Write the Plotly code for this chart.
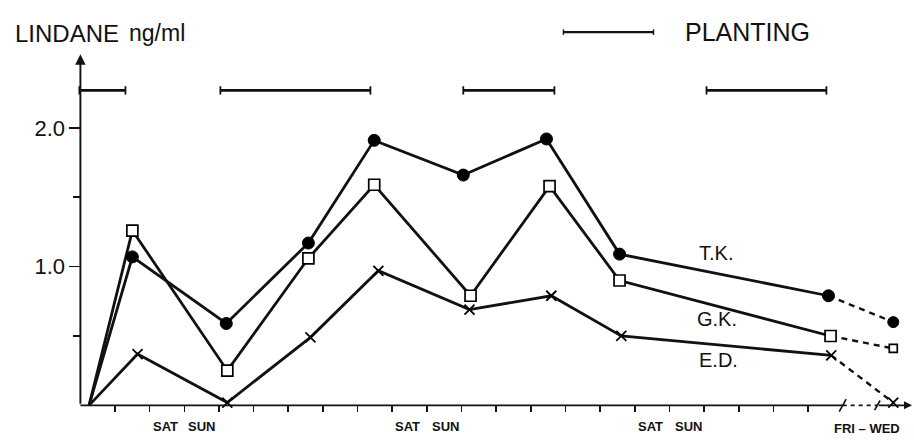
import plotly.graph_objects as go

# ---------------- data (days since start, ng/ml) ----------------
tk_x = [0.25, 1.50, 4.21, 6.58, 8.48, 11.05, 13.45, 15.56, 21.59, 23.46]
tk_y = [0.00, 1.07, 0.59, 1.17, 1.91, 1.66, 1.92, 1.09, 0.79, 0.60]

gk_x = [0.25, 1.50, 4.24, 6.58, 8.48, 11.26, 13.54, 15.56, 21.65, 23.46]
gk_y = [0.00, 1.26, 0.25, 1.06, 1.59, 0.79, 1.58, 0.90, 0.50, 0.41]

ed_x = [0.25, 1.65, 4.24, 6.64, 8.60, 11.23, 13.59, 15.61, 21.67, 23.46]
ed_y = [0.00, 0.37, 0.02, 0.49, 0.97, 0.69, 0.79, 0.50, 0.36, 0.02]

series_names = ["T.K.", "G.K.", "E.D."]

planting_start = [-0.03, 4.04, 11.05, 18.07]
planting_end = [1.30, 8.37, 13.68, 21.53]
planting_level = 2.27

day_ticks = list(range(1, 22))
weekend_labels = ["SAT", "SUN", "SAT", "SUN", "SAT", "SUN"]
weekend_pos = [2.45, 3.50, 9.45, 10.55, 16.45, 17.55]
break_start, break_end = 22.0, 23.0
y_tick_vals = [1.0, 2.0]
y_tick_text = ["1.0", "2.0"]
y_minor_vals = [0.5, 1.5]

# ---------------- layout geometry ----------------
W, H = 914, 440
L, R, T, B = 70, 1, 3, 18
PW, PH = W - L - R, H - T - B
XR = [-0.3, -0.3 + PW / 34.65]
YR = [-0.12, 2.9]


def pxx(px):
    return (px - L) / PW


def pxy(py):
    return (H - B - py) / PH


INK = "#000000"
FONT = "Liberation Sans, Arial, sans-serif"

fig = go.Figure()

# solid and dashed parts of the series (lines only)
for xs, ys in [(tk_x, tk_y), (gk_x, gk_y), (ed_x, ed_y)]:
    fig.add_trace(go.Scatter(x=xs[:-1], y=ys[:-1], mode="lines",
                             line=dict(color="#111111", width=2.8),
                             showlegend=False, hoverinfo="skip"))
    fig.add_trace(go.Scatter(x=xs[-2:], y=ys[-2:], mode="lines",
                             line=dict(color="#111111", width=2.4, dash="6px,5px"),
                             showlegend=False, hoverinfo="skip"))

# markers
styles = [
    dict(symbol="circle", color=INK, size=12, opacity=1, line=dict(color=INK, width=1)),
    dict(symbol="square", color="#ffffff", size=11, opacity=1, line=dict(color=INK, width=1.7)),
    dict(symbol="x-thin", color=INK, size=10, opacity=1, line=dict(color=INK, width=1.8)),
]
last_sizes = [11, 8, 10]
for (xs, ys), st, ls, nm in zip([(tk_x, tk_y), (gk_x, gk_y), (ed_x, ed_y)],
                                styles, last_sizes, series_names):
    sizes = [st["size"]] * (len(xs) - 2) + [ls]
    m = dict(st)
    m["size"] = sizes
    fig.add_trace(go.Scatter(x=xs[1:], y=ys[1:], mode="markers", marker=m,
                             name=nm, showlegend=False, cliponaxis=False))

shapes = []
# x axis with a break
shapes.append(dict(type="line", xref="x", yref="y", x0=0, y0=0, x1=break_start, y1=0,
                   line=dict(color="#111111", width=1.9)))
shapes.append(dict(type="line", xref="x", yref="y", x0=break_start, y0=0, x1=break_end, y1=0,
                   line=dict(color="#111111", width=1.6, dash="4px,4px")))
for bx, hw, hh in [(break_start, 0.10, 0.045), (break_end, 0.08, 0.035)]:
    shapes.append(dict(type="line", xref="x", yref="y", x0=bx - hw, y0=-hh, x1=bx + hw, y1=hh,
                       line=dict(color="#111111", width=1.6)))

# planting bars
for s, e in zip(planting_start, planting_end):
    shapes.append(dict(type="line", xref="x", yref="y", x0=s, y0=planting_level,
                       x1=e, y1=planting_level, line=dict(color="#111111", width=2.8)))
    for cx in (s, e):
        shapes.append(dict(type="line", xref="x", yref="y", x0=cx, y0=planting_level - 0.03,
                           x1=cx, y1=planting_level + 0.03, line=dict(color="#111111", width=1.8)))

# legend bar
lg_s, lg_e, lg_y = 13.94, 16.54, 2.69
shapes.append(dict(type="line", xref="x", yref="y", x0=lg_s, y0=lg_y, x1=lg_e, y1=lg_y,
                   line=dict(color="#111111", width=2.4)))
for cx in (lg_s, lg_e):
    shapes.append(dict(type="line", xref="x", yref="y", x0=cx, y0=lg_y - 0.02,
                       x1=cx, y1=lg_y + 0.02, line=dict(color="#111111", width=1.4)))

ann = []
# y axis arrow
ann.append(dict(x=0, y=2.53, ax=0, ay=0, xref="x", yref="y", axref="x", ayref="y",
                text="", showarrow=True, arrowhead=2, arrowsize=1.1, arrowwidth=1.9,
                arrowcolor="#111111", standoff=0, startstandoff=0))
# x axis arrow after break
ann.append(dict(x=24.0, y=0, ax=break_end, ay=0, xref="x", yref="y", axref="x", ayref="y",
                text="", showarrow=True, arrowhead=2, arrowsize=1.0, arrowwidth=1.6,
                arrowcolor="#111111", standoff=0, startstandoff=0))

ann.append(dict(x=pxx(13), y=pxy(33), xref="paper", yref="paper", xanchor="left",
                yanchor="middle", text="LINDANE", showarrow=False,
                font=dict(family=FONT, size=24, color="#111111")))
ann.append(dict(x=pxx(127), y=pxy(33), xref="paper", yref="paper", xanchor="left",
                yanchor="middle", text="ng/ml", showarrow=False,
                font=dict(family=FONT, size=23, color="#111111")))
ann.append(dict(x=pxx(683), y=pxy(32), xref="paper", yref="paper", xanchor="left",
                yanchor="middle", text="PLANTING", showarrow=False,
                font=dict(family=FONT, size=25, color="#111111")))

for nm, lx, ly in zip(series_names, [18.35, 18.38, 18.42], [1.10, 0.62, 0.33]):
    ann.append(dict(x=lx, y=ly, xref="x", yref="y", text=nm, showarrow=False,
                    font=dict(family=FONT, size=20, color="#111111")))

for t, p in zip(weekend_labels, weekend_pos):
    ann.append(dict(x=p, y=pxy(427), xref="x", yref="paper", yanchor="middle",
                    text="<b>" + t + "</b>", showarrow=False,
                    font=dict(family=FONT, size=13, color="#111111")))
ann.append(dict(x=22.7, y=pxy(428), xref="x", yref="paper", yanchor="middle",
                text="<b>FRI – WED</b>", showarrow=False,
                font=dict(family=FONT, size=13, color="#111111")))

fig.update_layout(
    width=W, height=H,
    margin=dict(l=L, r=R, t=T, b=B, pad=0),
    paper_bgcolor="white", plot_bgcolor="white",
    showlegend=False,
    shapes=shapes, annotations=ann,
    xaxis=dict(range=XR, anchor="free", position=(0 - YR[0]) / (YR[1] - YR[0]),
               showline=False, showgrid=False, zeroline=False,
               tickmode="array", tickvals=day_ticks, showticklabels=False,
               ticks="outside", ticklen=6, tickwidth=1.6, tickcolor="#111111",
               fixedrange=True),
    yaxis=dict(range=YR, anchor="free", position=(0 - XR[0]) / (XR[1] - XR[0]),
               showline=False, showgrid=False, zeroline=False,
               tickmode="array", tickvals=y_tick_vals, ticktext=y_tick_text,
               ticks="outside", ticklen=11, tickwidth=1.6, tickcolor="#111111",
               tickfont=dict(family=FONT, size=22, color="#111111"),
               minor=dict(tickmode="array", tickvals=y_minor_vals, ticks="outside",
                          ticklen=7, tickwidth=1.6, tickcolor="#111111"),
               fixedrange=True),
)

fig.write_html(
    "out.html",
    config={"displayModeBar": False, "staticPlot": True},
    post_script="document.body.style.margin='0';document.body.style.overflow='hidden';",
)
